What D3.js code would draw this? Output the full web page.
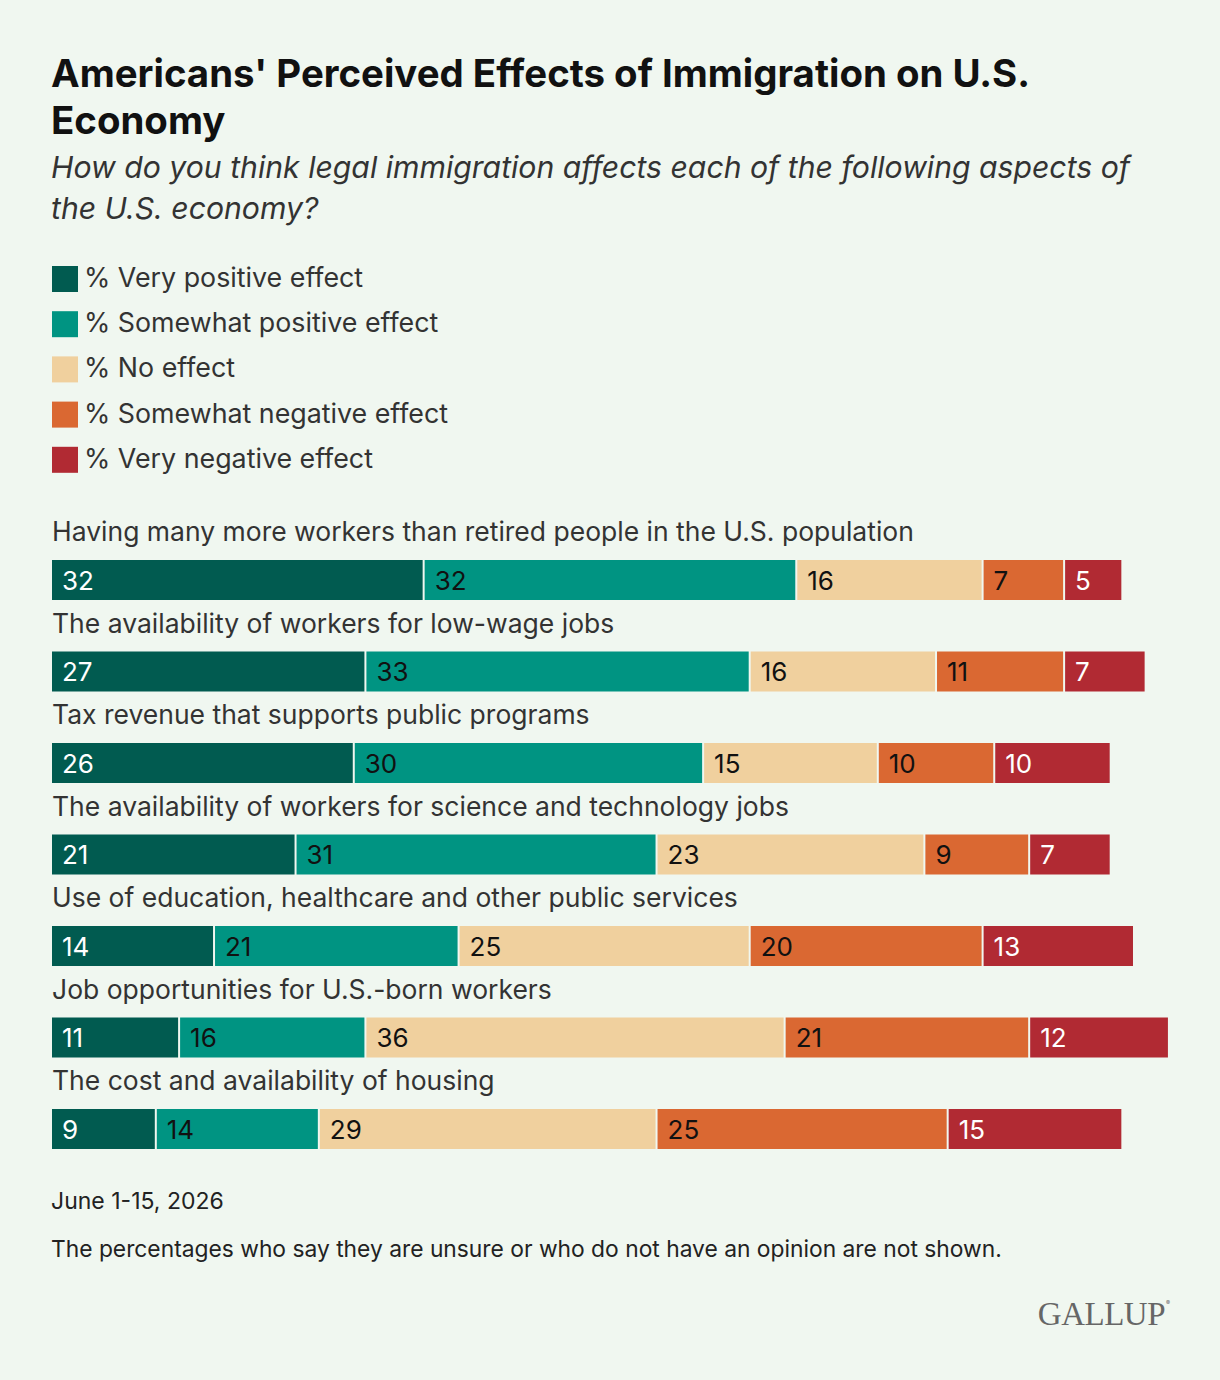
<!DOCTYPE html>
<html>
<head>
<meta charset="utf-8">
<script src="https://cdn.jsdelivr.net/npm/d3@7"></script>
<style>
  body { margin: 0; background: #f0f7f0; }
  svg { display: block; font-family: Inter, "Noto Sans", sans-serif; }
</style>
</head>
<body>
<div id="chart"></div>
<script>
// Data
const categories = [
  "Having many more workers than retired people in the U.S. population",
  "The availability of workers for low-wage jobs",
  "Tax revenue that supports public programs",
  "The availability of workers for science and technology jobs",
  "Use of education, healthcare and other public services",
  "Job opportunities for U.S.-born workers",
  "The cost and availability of housing"
];
const seriesNames = ["% Very positive effect", "% Somewhat positive effect", "% No effect", "% Somewhat negative effect", "% Very negative effect"];
const veryPositive = [32, 27, 26, 21, 14, 11, 9];
const somewhatPositive = [32, 33, 30, 31, 21, 16, 14];
const noEffect = [16, 16, 15, 23, 25, 36, 29];
const somewhatNegative = [7, 11, 10, 9, 20, 21, 25];
const veryNegative = [5, 7, 10, 7, 13, 12, 15];
const colors = ["#015b50", "#009482", "#f0d09e", "#da6832", "#b12a33"];
const labelColors = ["#fff", "#111", "#111", "#111", "#fff"];

const width = 1220, height = 1380;
const keys = ["vp", "sp", "ne", "sn", "vn"];

// build table for d3.stack
const table = categories.map((c, i) => ({
  cat: c,
  vp: veryPositive[i], sp: somewhatPositive[i], ne: noEffect[i],
  sn: somewhatNegative[i], vn: veryNegative[i]
}));

const svg = d3.select("#chart").append("svg")
  .attr("width", width).attr("height", height);

svg.append("rect").attr("width", width).attr("height", height).attr("fill", "#f0f7f0");

// Title
const title = svg.append("text")
  .attr("x", 51).attr("y", 87)
  .attr("font-size", 38.4).attr("font-weight", 700).attr("fill", "#111");
title.append("tspan").attr("x", 51).text("Americans' Perceived Effects of Immigration on U.S.");
title.append("tspan").attr("x", 51).attr("dy", 47).text("Economy");

// Subtitle
const sub = svg.append("text")
  .attr("x", 51).attr("y", 178)
  .attr("font-size", 30.2).attr("font-style", "italic").attr("fill", "#333");
sub.append("tspan").attr("x", 51).text("How do you think legal immigration affects each of the following aspects of");
sub.append("tspan").attr("x", 51).attr("dy", 41).text("the U.S. economy?");

// Legend
const legend = svg.append("g");
seriesNames.forEach((name, i) => {
  const y = 266 + i * 45.2;
  legend.append("rect").attr("x", 52).attr("y", y).attr("width", 26).attr("height", 26).attr("fill", colors[i]);
  legend.append("text").attr("x", 84).attr("y", y + 21)
    .attr("font-size", 26.8).attr("fill", "#333").text(name);
});

// Scales
const x = d3.scaleLinear().domain([0, 100]).range([52, 1216.5]);
const y = d3.scaleBand().domain(categories).range([560, 1149]).paddingInner(51.5 / 91.5).paddingOuter(0);

const stacked = d3.stack().keys(keys)(table);

// Row labels
svg.append("g").selectAll("text")
  .data(categories)
  .enter()
  .append("text")
  .attr("x", 52)
  .attr("y", d => y(d) - 19)
  .attr("font-size", 26.5)
  .attr("fill", "#333")
  .text(d => d);

// Bars
const layers = svg.append("g").selectAll("g")
  .data(stacked)
  .enter()
  .append("g")
  .attr("fill", (d, i) => colors[i]);

layers.selectAll("rect")
  .data(d => d)
  .enter()
  .append("rect")
  .attr("x", d => x(d[0]))
  .attr("y", d => y(d.data.cat))
  .attr("width", d => x(d[1]) - x(d[0]) - 2)
  .attr("height", y.bandwidth());

layers.each(function(layer, i) {
  d3.select(this).selectAll("text")
    .data(layer)
    .enter()
    .append("text")
    .attr("x", d => x(d[0]) + 10)
    .attr("y", d => y(d.data.cat) + y.bandwidth() / 2 + 9.5)
    .attr("font-size", 26)
    .attr("fill", labelColors[i])
    .text(d => d[1] - d[0]);
});

// Footer
svg.append("text").attr("x", 51).attr("y", 1209)
  .attr("font-size", 23).attr("fill", "#222").text("June 1-15, 2026");
svg.append("text").attr("x", 51).attr("y", 1257)
  .attr("font-size", 22.8).attr("fill", "#222")
  .text("The percentages who say they are unsure or who do not have an opinion are not shown.");

// Gallup wordmark
svg.append("text").attr("x", 1165).attr("y", 1325)
  .attr("text-anchor", "end")
  .attr("font-family", "'Liberation Serif', 'DejaVu Serif', serif")
  .attr("font-size", 33).attr("fill", "#666")
  .attr("letter-spacing", -0.5)
  .text("GALLUP");
svg.append("text").attr("x", 1166).attr("y", 1305)
  .attr("font-size", 6).attr("fill", "#666").text("®");
</script>
</body>
</html>
